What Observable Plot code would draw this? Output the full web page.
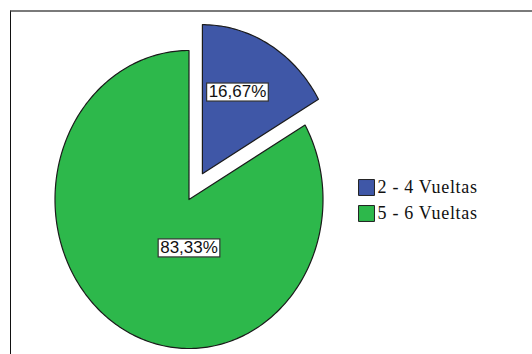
<!DOCTYPE html>
<html><head><meta charset="utf-8">
<script src="https://cdn.jsdelivr.net/npm/d3@7"></script>
<script src="https://cdn.jsdelivr.net/npm/@observablehq/plot@0.6"></script>
<style>
html,body{margin:0;padding:0;background:#fff;}
#wrap{position:relative;width:532px;height:354px;overflow:hidden;}
#wrap svg{position:absolute;left:0;top:0;}
#frame{position:absolute;left:10px;top:10px;right:-5px;bottom:-5px;border-top:2px solid #7a7a7a;border-left:1px solid #111;pointer-events:none;}
.leg text{letter-spacing:0.7px;}
</style></head><body><div id="wrap"></div>
<script>
const categories = ["2 - 4 Vueltas", "5 - 6 Vueltas"];
const percents = [16.67, 83.33];
const labels = ["16,67%", "83,33%"];
const colors = ["#3f57a7", "#2db84b"];

// pixel geometry of the (elliptical) pie
const W = 532, H = 354, CX = 188.5, CY = 199, RX = 134, RY = 149;
const px = p => (p - CX) / RX;
const py = p => (CY - p) / RY;

const arcs = d3.pie().sort(null).value(d => d)(percents);
const explode = [0.2, 0];

const pts = [];
arcs.forEach((a, i) => {
  const mid = (a.startAngle + a.endAngle) / 2;
  const ox = explode[i] * Math.sin(mid), oy = explode[i] * Math.cos(mid);
  const cat = categories[i];
  pts.push({cat, x: ox, y: oy});
  const n = Math.max(8, Math.round((a.endAngle - a.startAngle) / (Math.PI * 2) * 360));
  for (let k = 0; k <= n; k++) {
    const t = a.startAngle + (a.endAngle - a.startAngle) * k / n;
    pts.push({cat, x: ox + Math.sin(t), y: oy + Math.cos(t)});
  }
  pts.push({cat, x: ox, y: oy});
});

// label anchors: polar offsets from each slice apex
const labelPolar = [[0.61, 25.4], [0.322, 180]];
const labelData = arcs.map((a, i) => {
  const mid = (a.startAngle + a.endAngle) / 2;
  const ox = explode[i] * Math.sin(mid), oy = explode[i] * Math.cos(mid);
  const [r, deg] = labelPolar[i];
  const t = deg * Math.PI / 180;
  return {label: labels[i], x: ox + r * Math.sin(t), y: oy + r * Math.cos(t)};
});

const plot = Plot.plot({
  width: W, height: H,
  margin: 0,
  style: {background: "transparent"},
  x: {domain: [px(0), px(W)], range: [0, W], axis: null},
  y: {domain: [py(H), py(0)], range: [H, 0], axis: null},
  color: {domain: categories, range: colors},
  marks: [
    Plot.line(pts, {x: "x", y: "y", z: "cat", fill: "cat", stroke: "#1b1b1b", strokeWidth: 1.2, curve: "linear"}),
    Plot.text(labelData, {x: "x", y: "y", text: "label", fontSize: 17, fontFamily: "Liberation Sans, Arial, sans-serif", fill: "#111", className: "lbl"}),
    Plot.dot(categories, {x: () => px(366), y: (d, i) => py(187 + i * 26), symbol: "square", r: 9, fill: d => d, stroke: "#222", strokeWidth: 1}),
    Plot.text(categories, {x: () => px(377), y: (d, i) => py(187 + i * 26), text: d => d, textAnchor: "start", fontSize: 18, fontFamily: "Liberation Serif, Times New Roman, serif", fill: "#111", className: "leg"})
  ]
});
const wrap = document.getElementById("wrap");
wrap.appendChild(plot);
const fr = document.createElement("div"); fr.id = "frame"; wrap.appendChild(fr);

// white boxes behind the percentage labels
d3.select(plot).selectAll("g.lbl text, .lbl text").each(function() {
  const b = this.getBBox();
  const g = this.parentNode;
  d3.select(g).insert("rect", () => this)
    .attr("x", b.x - 2).attr("y", b.y + 1).attr("width", b.width + 4).attr("height", b.height - 1)
    .attr("fill", "#fff").attr("stroke", "#333").attr("stroke-width", 1.2)
    .attr("transform", this.getAttribute("transform"));
});
</script></body></html>
